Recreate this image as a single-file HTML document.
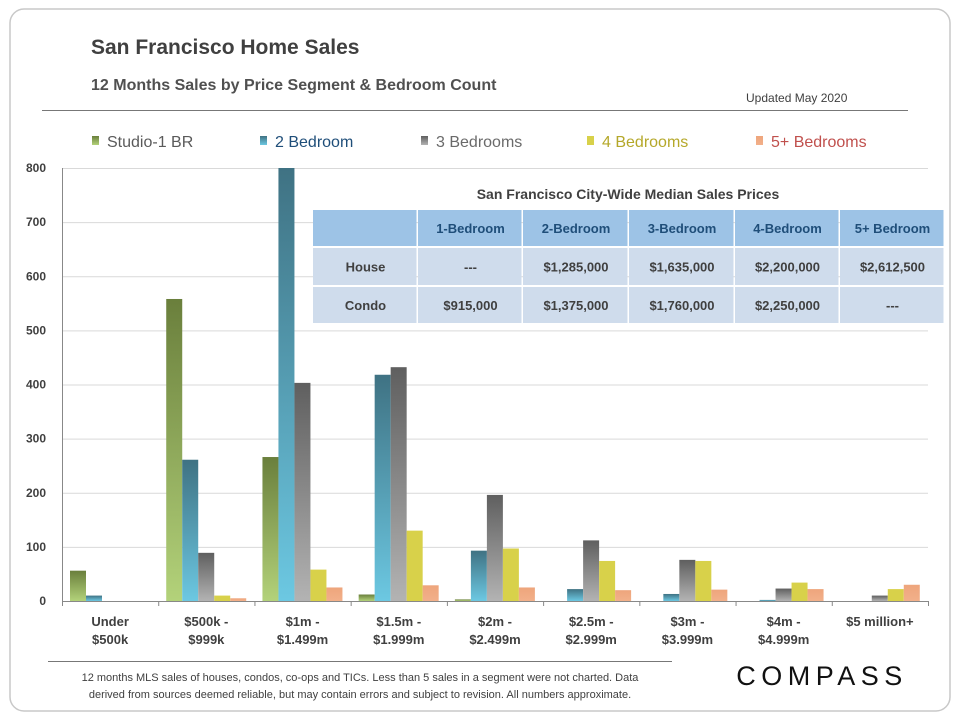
<!DOCTYPE html>
<html><head><meta charset="utf-8"><style>
body{margin:0;background:#fff;font-family:"Liberation Sans",sans-serif;}
#wrap{position:relative;width:960px;height:720px;overflow:hidden;}
</style></head><body>
<div id="wrap">
<svg id="chart" width="960" height="720" xmlns="http://www.w3.org/2000/svg">
<defs>
<linearGradient id="g0" x1="0" y1="0" x2="0" y2="1"><stop offset="0" stop-color="#6a7f3c"/><stop offset="1" stop-color="#b3d27a"/></linearGradient>
<linearGradient id="g1" x1="0" y1="0" x2="0" y2="1"><stop offset="0" stop-color="#3f7283"/><stop offset="1" stop-color="#6cc8e2"/></linearGradient>
<linearGradient id="g2" x1="0" y1="0" x2="0" y2="1"><stop offset="0" stop-color="#5f5f5f"/><stop offset="1" stop-color="#b3b3b3"/></linearGradient>
<linearGradient id="g3" x1="0" y1="0" x2="0" y2="1"><stop offset="0" stop-color="#d8d14a"/><stop offset="1" stop-color="#d8d14a"/></linearGradient>
<linearGradient id="g4" x1="0" y1="0" x2="0" y2="1"><stop offset="0" stop-color="#eea57c"/><stop offset="1" stop-color="#f2b08a"/></linearGradient>
</defs>
<rect x="10" y="9" width="940" height="702" rx="14" fill="none" stroke="#c8c8c8" stroke-width="1.5"/>
<text x="91" y="54" font-size="21" font-weight="bold" fill="#404040">San Francisco Home Sales</text>
<text x="91" y="90" font-size="16" font-weight="bold" fill="#505050">12 Months  Sales by Price Segment &amp; Bedroom Count</text>
<text x="746" y="102" font-size="12" fill="#404040">Updated May 2020</text>
<line x1="42" y1="110.5" x2="908" y2="110.5" stroke="#777"/>
<g id="legend"></g>
<g id="grid"></g>
<g id="bars"></g>
<g id="axes"></g>
<line x1="48" y1="661.5" x2="672" y2="661.5" stroke="#777"/>
<text x="360" y="681" font-size="11" fill="#404040" text-anchor="middle">12 months MLS sales of houses, condos, co-ops and TICs. Less than 5 sales in a segment were not charted. Data</text>
<text x="360" y="698" font-size="11" fill="#404040" text-anchor="middle">derived from sources deemed reliable, but may contain errors and subject to revision. All numbers approximate.</text>
<text x="822" y="685" font-size="27" fill="#111" text-anchor="middle" letter-spacing="5.5">COMPASS</text>
<g id="table"></g>
</svg>
</div>
<script>
const categories=[["Under","$500k"],["$500k -","$999k"],["$1m -","$1.499m"],["$1.5m -","$1.999m"],["$2m -","$2.499m"],["$2.5m -","$2.999m"],["$3m -","$3.999m"],["$4m -","$4.999m"],["$5 million+",""]];
const seriesNames=["Studio-1 BR","2 Bedroom","3 Bedrooms","4 Bedrooms","5+ Bedrooms"];
const studio=[56,558,266,12,3,0,0,0,0];
const bed2=[10,261,800,418,93,22,13,2,0];
const bed3=[0,89,403,432,196,112,76,23,10];
const bed4=[0,10,58,130,97,74,74,34,22];
const bed5=[0,5,25,29,25,20,21,22,30];
const series=[studio,bed2,bed3,bed4,bed5];
const yTicks=[0,100,200,300,400,500,600,700,800];
const tableHead=["","1-Bedroom","2-Bedroom","3-Bedroom","4-Bedroom","5+ Bedroom"];
const houseRow=["House","---","$1,285,000","$1,635,000","$2,200,000","$2,612,500"];
const condoRow=["Condo","$915,000","$1,375,000","$1,760,000","$2,250,000","---"];

const NS="http://www.w3.org/2000/svg";
function mk(t,a,p,txt){const e=document.createElementNS(NS,t);for(const k in a)e.setAttribute(k,a[k]);if(txt!==undefined)e.textContent=txt;p.appendChild(e);return e;}
const X0=62,X1=928,Y0=601,Y1=168,YMAX=800;
const y=v=>Y0-(Math.min(v,YMAX)/YMAX)*(Y0-Y1);
const cw=(X1-X0)/categories.length;
const bw=16,goff=8;
const grid=document.getElementById('grid'),bars=document.getElementById('bars'),axes=document.getElementById('axes');
yTicks.forEach(t=>{
  const l=mk('line',{x1:X0,x2:X1,y1:y(t)+.5,y2:y(t)+.5,stroke:t===0?'#888':'#d9d9d9'},grid);
  
  
  const tx=mk('text',{x:46,y:y(t)+4,'font-size':12,'font-weight':'bold',fill:'#404040','text-anchor':'end'},axes,String(t));
  
  
});
mk('line',{x1:X0+.5,x2:X0+.5,y1:Y1,y2:Y0,stroke:'#888'},axes);
categories.forEach((c,i)=>{
  const gx=X0+i*cw;
  mk('line',{x1:gx+.5,x2:gx+.5,y1:Y0,y2:Y0+5,stroke:'#888'},axes);
  c.forEach((s,j)=>{
    const tx=mk('text',{x:gx+cw/2,y:626+j*18,'font-size':13,'font-weight':'bold',fill:'#404040','text-anchor':'middle'},axes,s);
    
    
  });
  series.forEach((sv,k)=>{
    const v=sv[i];if(!v)return;
    const r=mk('rect',{x:gx+goff+k*bw,y:y(v),width:bw,height:Y0-y(v),fill:'url(#g'+k+')'},bars);
    
    
  });
});
mk('line',{x1:X1+.5,x2:X1+.5,y1:Y0,y2:Y0+5,stroke:'#888'},axes);
const leg=document.getElementById('legend');
const legX=[92,260,421,587,756],legCol=["#5a5a5a","#1f4e79","#6a6a6a","#b5a82a","#c0504d"];
seriesNames.forEach((n,k)=>{
  const r=mk('rect',{x:legX[k],y:136,width:7,height:9,fill:'url(#g'+k+')'},leg);
  
  
  const t=mk('text',{x:legX[k]+15,y:147,'font-size':16,fill:legCol[k]},leg,n);
  
  
});
const tb=document.getElementById('table');
const tt=mk('text',{x:628,y:199,'font-size':14,'font-weight':'bold',fill:'#404040','text-anchor':'middle'},tb,"San Francisco City-Wide Median Sales Prices");


const colX=[313,418,523,629,735,840,945];
const rows=[[tableHead,210,36,'#9dc3e6','#1f4e79'],[houseRow,248,37,'#cfdcec','#404040'],[condoRow,287,36,'#cfdcec','#404040']];
rows.forEach(([row,ry,rh,bg,fg],ri)=>{
  row.forEach((s,ci)=>{
    const r=mk('rect',{x:colX[ci],y:ry,width:colX[ci+1]-colX[ci]-1.5,height:rh,fill:bg},tb);
    
    
    if(s){const t=mk('text',{x:(colX[ci]+colX[ci+1])/2,y:ry+rh/2+5,'font-size':13,'font-weight':'bold',fill:fg,'text-anchor':'middle'},tb,s);
    
    }
  });
});
</script>
</body></html>
